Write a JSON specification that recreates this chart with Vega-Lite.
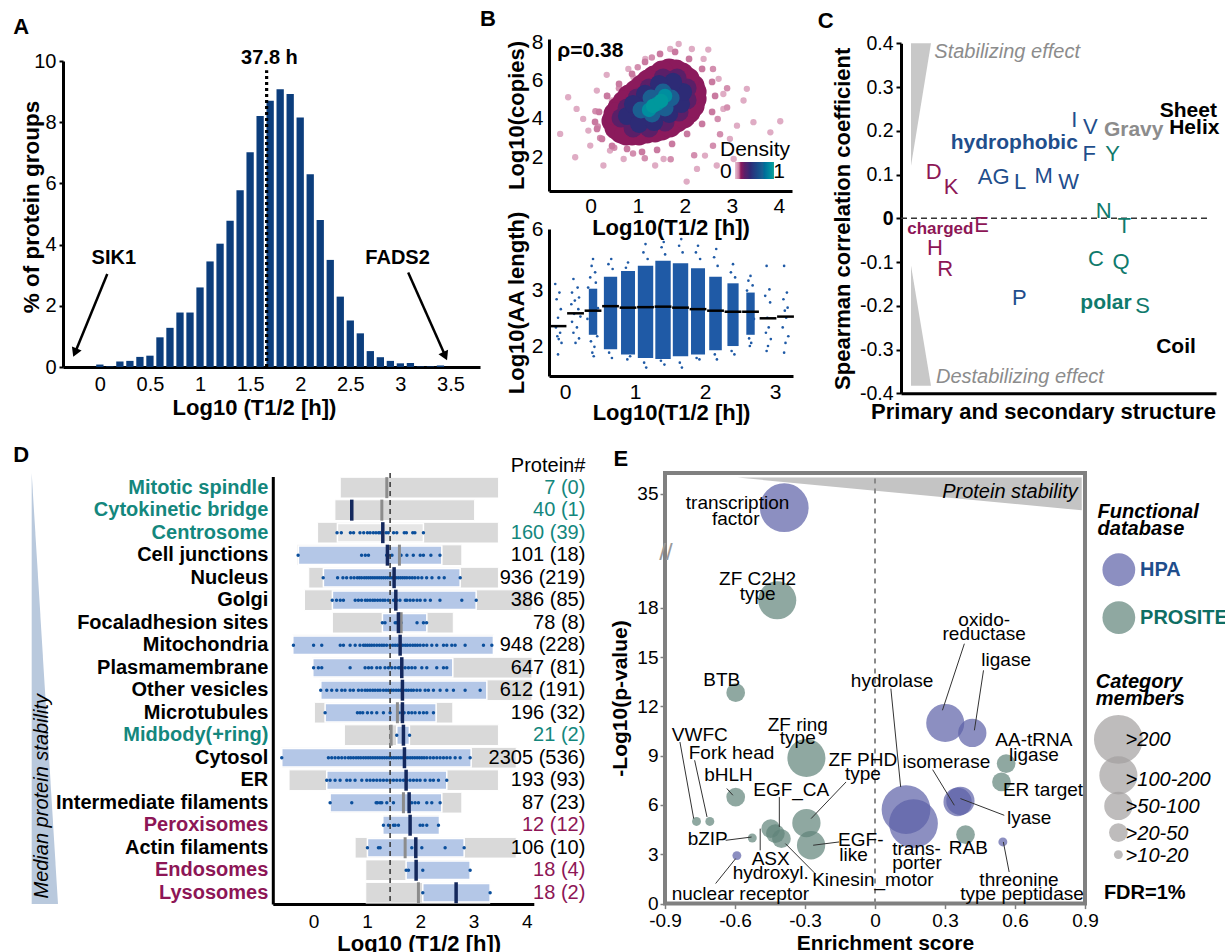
{
"$schema":"https://vega.github.io/schema/vega-lite/v6.json",
"background":"white",
"padding":{"left":13,"top":8,"right":0,"bottom":0},
"config":{"font":"Liberation Sans","view":{"stroke":null},
 "axis":{"domainColor":"#000","domainWidth":3,"tickColor":"#000","labelColor":"#000","titleColor":"#000","labelFontSize":19,"titleFontSize":22,"titleFontWeight":"bold","grid":false,"labelOverlap":false,"labelFlush":false},
 "title":{"fontSize":22,"fontWeight":"bold","anchor":"start","frame":"group","baseline":"alphabetic","color":"#000"}},
"spacing":21,
"resolve":{"scale":{"color":"independent","size":"independent","fill":"independent","angle":"independent"},"legend":{"color":"independent","size":"independent","fill":"independent"}},
"vconcat":[
{"spacing":0,
 "resolve":{"scale":{"color":"independent","size":"independent","fill":"independent","angle":"independent"},"legend":{"color":"independent","size":"independent","fill":"independent"}},
 "hconcat":[
 {"width":417,"height":328,
  "title":{"text":"A","dx":-49.7,"offset":0},
  "encoding":{
   "x":{"field":"x","type":"quantitative","scale":{"domain":[-0.318,3.745],"nice":false,"zero":false},
        "axis":{"values":[0,0.5,1,1.5,2,2.5,3,3.5],"format":"~g","ticks":false,"labelFontSize":20,"labelPadding":7,"title":"Log10 (T1/2 [h])","titlePadding":3,"titleX":191}},
   "y":{"field":"y","type":"quantitative","scale":{"domain":[0,10],"range":[328,22],"nice":false,"zero":false},
        "axis":{"values":[0,2,4,6,8,10],"tickSize":4,"tickWidth":2,"labelFontSize":20,"labelPadding":3,"title":"% of protein groups","titleFontSize":22.5,"titleX":-31.3,"titleBaseline":"middle","titleY":167.5}}},
  "layer":[
   {"data":{"values":[{"x":0,"y":0.08},{"x":0.1,"y":0.02},{"x":0.2,"y":0.18},{"x":0.3,"y":0.2},{"x":0.4,"y":0.33},{"x":0.5,"y":0.37},{"x":0.6,"y":0.97},{"x":0.7,"y":1.28},{"x":0.8,"y":1.78},{"x":0.9,"y":1.78},{"x":1.0,"y":2.6},{"x":1.1,"y":3.45},{"x":1.2,"y":4.03},{"x":1.3,"y":4.78},{"x":1.4,"y":5.78},{"x":1.5,"y":7.02},{"x":1.6,"y":8.2},{"x":1.7,"y":8.7},{"x":1.8,"y":9.08},{"x":1.9,"y":8.92},{"x":2.0,"y":8.15},{"x":2.1,"y":6.3},{"x":2.2,"y":4.8},{"x":2.3,"y":3.5},{"x":2.4,"y":2.3},{"x":2.5,"y":1.52},{"x":2.6,"y":1.1},{"x":2.7,"y":0.52},{"x":2.8,"y":0.32},{"x":2.9,"y":0.2},{"x":3.0,"y":0.12},{"x":3.1,"y":0.13},{"x":3.2,"y":0.02},{"x":3.3,"y":0.02},{"x":3.4,"y":0.05}]},
    "mark":{"type":"bar","color":"#0b3d7c","size":7.3}},
   {"data":{"values":[{"x":1.665,"y":0,"y2":9.7}]},"mark":{"type":"rule","strokeDash":[3,3],"strokeWidth":3.2,"color":"#000"},"encoding":{"y2":{"field":"y2"}}},
   {"data":{"values":[{"x":1.693,"y":10.1,"t":"37.8 h"},{"x":0.139,"y":3.56,"t":"SIK1"},{"x":2.972,"y":3.56,"t":"FADS2"}]},
    "mark":{"type":"text","fontSize":20,"fontWeight":"bold","baseline":"middle","align":"center"},"encoding":{"text":{"field":"t"}}},
   {"data":{"values":[{"x":0.074,"y":3.04,"x2":-0.25,"y2":0.45},{"x":3.078,"y":3.09,"x2":3.45,"y2":0.35}]},
    "mark":{"type":"rule","strokeWidth":2.5,"color":"#000"},"encoding":{"x2":{"field":"x2"},"y2":{"field":"y2"}}},
   {"data":{"values":[{"x":-0.248,"y":0.47,"a":203},{"x":3.447,"y":0.356,"a":155.7}]},
    "mark":{"type":"point","shape":"triangle-up","filled":true,"size":110,"color":"#000","opacity":1},"encoding":{"angle":{"field":"a","type":"quantitative","scale":null}}}
  ]},
 {"vconcat":[
  {"width":268,"height":152,
   "title":{"text":"B","dx":-69,"offset":0},
   "encoding":{
    "x":{"field":"x","type":"quantitative","scale":{"domain":[-0.887,4.28],"range":[0,243],"nice":false,"zero":false},
         "axis":{"values":[0,1,2,3,4],"ticks":false,"labelFontSize":21,"labelPadding":4,"title":"Log10(T1/2 [h])","titlePadding":1}},
    "y":{"field":"y","type":"quantitative","scale":{"domain":[0.24,8.17],"nice":false,"zero":false},
         "axis":{"values":[2,4,6,8],"ticks":false,"labelFontSize":21,"labelPadding":6,"title":"Log10(copies)","titlePadding":3}}},
   "layer":[
    {"encoding":{"color":{"field":"d","type":"quantitative","scale":{"domain":[0,0.1,0.15,0.25,0.4,0.7,1],"range":["#e8c1d3","#c97aa0","#8b1a5c","#5a1f68","#2d2b76","#1b5f91","#22a39b"]},
        "legend":{"type":"gradient","orient":"none","legendX":171,"legendY":100,"direction":"horizontal","gradientLength":39,"gradientThickness":17,"title":"Density","titleFontSize":21,"titleFontWeight":"normal","titleAnchor":"middle","titlePadding":2,"labelFontSize":21,"values":[0,1],"labelExpr":"''","padding":0}}},
     "layer":[
      {"data":{"values":[{"x":-0.65,"y":3.22,"d":0.03},{"x":-0.48,"y":5.13,"d":0.03},{"x":-0.33,"y":2.0,"d":0.03},{"x":0.13,"y":5.48,"d":0.03},{"x":0.34,"y":6.3,"d":0.03},{"x":0.45,"y":4.96,"d":0.03},{"x":-0.16,"y":4.0,"d":0.03},{"x":-0.05,"y":3.39,"d":0.03},{"x":0.41,"y":2.35,"d":0.03},{"x":0.7,"y":1.91,"d":0.03},{"x":0.91,"y":6.17,"d":0.03},{"x":1.16,"y":7.13,"d":0.03},{"x":1.37,"y":1.57,"d":0.03},{"x":1.69,"y":7.65,"d":0.03},{"x":1.87,"y":7.91,"d":0.03},{"x":2.04,"y":0.73,"d":0.03},{"x":2.15,"y":7.65,"d":0.03},{"x":2.5,"y":7.62,"d":0.03},{"x":2.72,"y":6.09,"d":0.03},{"x":2.82,"y":5.3,"d":0.03},{"x":2.96,"y":2.96,"d":0.03},{"x":3.11,"y":3.65,"d":0.03},{"x":3.32,"y":5.57,"d":0.03},{"x":3.46,"y":3.83,"d":0.03},{"x":3.82,"y":3.3,"d":0.03},{"x":4.03,"y":3.88,"d":0.03},{"x":3.04,"y":1.91,"d":0.03},{"x":2.68,"y":1.57,"d":0.03},{"x":2.43,"y":2.09,"d":0.03},{"x":-0.01,"y":2.61,"d":0.03},{"x":0.27,"y":1.57,"d":0.03},{"x":1.55,"y":1.91,"d":0.03},{"x":2.26,"y":1.39,"d":0.03},{"x":0.8,"y":6.61,"d":0.03},{"x":-0.3,"y":4.52,"d":0.03},{"x":2.82,"y":4.52,"d":0.03},{"x":3.25,"y":4.96,"d":0.03},{"x":2.4,"y":7.13,"d":0.03}]},
       "mark":{"type":"circle","opacity":1,"size":40}},
      {"data":{"values":[{"x":0.2,"y":3.0,"d":0.07},{"x":0.1,"y":4.4,"d":0.07},{"x":0.6,"y":5.6,"d":0.07},{"x":1.0,"y":6.7,"d":0.07},{"x":2.6,"y":6.6,"d":0.07},{"x":2.7,"y":4.0,"d":0.07},{"x":2.6,"y":2.6,"d":0.07},{"x":1.7,"y":1.9,"d":0.07},{"x":0.9,"y":2.2,"d":0.07},{"x":2.9,"y":5.6,"d":0.07},{"x":0.15,"y":3.6,"d":0.07},{"x":0.35,"y":5.2,"d":0.07},{"x":1.3,"y":7.2,"d":0.07},{"x":2.75,"y":3.2,"d":0.07},{"x":2.2,"y":2.1,"d":0.07},{"x":1.15,"y":1.95,"d":0.07},{"x":0.5,"y":2.5,"d":0.07},{"x":2.9,"y":4.6,"d":0.07}]},
       "mark":{"type":"circle","opacity":1,"size":42}},
      {"data":{"values":[{"x":0.134,"y":3.477,"d":0.1},{"x":0.24,"y":2.956,"d":0.1},{"x":0.453,"y":2.59,"d":0.1},{"x":0.772,"y":2.434,"d":0.1},{"x":1.091,"y":2.277,"d":0.1},{"x":1.411,"y":2.382,"d":0.1},{"x":1.73,"y":2.695,"d":0.1},{"x":2.049,"y":3.217,"d":0.1},{"x":2.368,"y":3.738,"d":0.1},{"x":2.581,"y":4.364,"d":0.1},{"x":2.645,"y":5.198,"d":0.1},{"x":2.581,"y":5.929,"d":0.1},{"x":2.368,"y":6.607,"d":0.1},{"x":2.091,"y":7.129,"d":0.1},{"x":1.794,"y":7.494,"d":0.1},{"x":1.474,"y":7.39,"d":0.1},{"x":1.155,"y":6.973,"d":0.1},{"x":0.879,"y":6.346,"d":0.1},{"x":0.602,"y":5.824,"d":0.1},{"x":0.347,"y":5.198,"d":0.1},{"x":0.177,"y":4.364,"d":0.1},{"x":0.092,"y":3.842,"d":0.1}]},
       "mark":{"type":"circle","opacity":1,"size":45}},
      {"data":{"values":[{"x":0.474,"y":3.894,"d":0.15},{"x":0.645,"y":3.321,"d":0.15},{"x":0.879,"y":3.217,"d":0.15},{"x":1.198,"y":3.321,"d":0.15},{"x":1.517,"y":3.477,"d":0.15},{"x":1.836,"y":3.894,"d":0.15},{"x":2.091,"y":4.364,"d":0.15},{"x":2.219,"y":5.042,"d":0.15},{"x":2.177,"y":5.72,"d":0.15},{"x":1.943,"y":6.346,"d":0.15},{"x":1.666,"y":6.553,"d":0.15},{"x":1.347,"y":6.19,"d":0.15},{"x":1.091,"y":5.72,"d":0.15},{"x":0.815,"y":5.198,"d":0.15},{"x":0.602,"y":4.573,"d":0.15},{"x":0.538,"y":3.529,"d":0.15},{"x":0.751,"y":3.217,"d":0.15},{"x":1.028,"y":3.217,"d":0.15},{"x":1.368,"y":3.373,"d":0.15},{"x":1.687,"y":3.634,"d":0.15},{"x":1.985,"y":4.103,"d":0.15},{"x":2.177,"y":4.677,"d":0.15},{"x":2.219,"y":5.407,"d":0.15},{"x":2.07,"y":6.085,"d":0.15},{"x":1.815,"y":6.503,"d":0.15},{"x":1.517,"y":6.451,"d":0.15},{"x":1.219,"y":5.981,"d":0.15},{"x":0.964,"y":5.46,"d":0.15},{"x":0.709,"y":4.886,"d":0.15},{"x":0.517,"y":4.26,"d":0.15},{"x":1.411,"y":4.781,"d":0.15},{"x":1.091,"y":4.26,"d":0.15},{"x":1.73,"y":5.303,"d":0.15},{"x":1.623,"y":4.26,"d":0.15},{"x":0.985,"y":5.042,"d":0.15},{"x":1.836,"y":4.781,"d":0.15}]},
       "mark":{"type":"circle","opacity":1,"size":530}},
      {"data":{"values":[{"x":0.645,"y":4.051,"d":0.25},{"x":0.9,"y":3.529,"d":0.25},{"x":1.24,"y":3.529,"d":0.25},{"x":1.581,"y":3.842,"d":0.25},{"x":1.879,"y":4.364,"d":0.25},{"x":2.049,"y":4.99,"d":0.25},{"x":2.049,"y":5.616,"d":0.25},{"x":1.836,"y":6.138,"d":0.25},{"x":1.538,"y":6.138,"d":0.25},{"x":1.24,"y":5.616,"d":0.25},{"x":0.985,"y":5.094,"d":0.25},{"x":0.772,"y":4.573,"d":0.25}]},
       "mark":{"type":"circle","opacity":1,"size":360}},
      {"data":{"values":[{"x":0.772,"y":4.155,"d":0.4},{"x":1.028,"y":3.738,"d":0.4},{"x":1.347,"y":3.842,"d":0.4},{"x":1.666,"y":4.26,"d":0.4},{"x":1.921,"y":4.781,"d":0.4},{"x":1.964,"y":5.407,"d":0.4},{"x":1.751,"y":5.929,"d":0.4},{"x":1.453,"y":5.824,"d":0.4},{"x":1.155,"y":5.303,"d":0.4},{"x":0.9,"y":4.781,"d":0.4},{"x":1.411,"y":4.781,"d":0.4}]},
       "mark":{"type":"circle","opacity":1,"size":330}},
      {"data":{"values":[{"x":1.07,"y":4.469,"d":0.7},{"x":1.304,"y":4.26,"d":0.7},{"x":1.581,"y":4.573,"d":0.7},{"x":1.709,"y":5.094,"d":0.7},{"x":1.538,"y":5.407,"d":0.7},{"x":1.283,"y":5.094,"d":0.7}]},
       "mark":{"type":"circle","opacity":1,"size":290}},
      {"data":{"values":[{"x":1.24,"y":4.469,"d":0.9},{"x":1.581,"y":5.198,"d":0.9},{"x":1.411,"y":4.781,"d":0.9},{"x":1.326,"y":4.677,"d":0.95},{"x":1.496,"y":4.938,"d":0.95}]},
       "mark":{"type":"circle","opacity":1,"size":210}}
     ]},
    {"data":{"values":[{"x":-0.71,"y":7.56,"t":"ρ=0.38"}]},"mark":{"type":"text","align":"left","baseline":"middle","fontSize":21,"fontWeight":"bold","color":"#000"},"encoding":{"text":{"field":"t"}}},
    {"data":{"values":[{"x":2.874,"y":1.218,"t":"0"},{"x":4.006,"y":1.218,"t":"1"}]},"mark":{"type":"text","align":"center","baseline":"middle","fontSize":21,"color":"#000"},"encoding":{"text":{"field":"t"}}}
   ]},
  {"width":268,"height":147,
   "encoding":{
    "x":{"field":"x","type":"quantitative","scale":{"domain":[-0.229,3.257],"range":[0,244],"nice":false,"zero":false},
         "axis":{"values":[0,1,2,3],"ticks":false,"labelFontSize":21,"labelPadding":5,"title":"Log10(T1/2 [h])","titlePadding":0}},
    "y":{"field":"y","type":"quantitative","scale":{"type":"pow","exponent":-0.8,"domain":[1.68,6],"nice":false,"zero":false},
         "axis":{"values":[2,3,6],"ticks":false,"labelFontSize":21,"labelPadding":6,"title":"Log10(AA length)","titlePadding":3}}},
   "layer":[
    {"data":{"values":[{"x":0.34,"x2":0.46,"y":2.15,"y2":3.05},{"x":0.555,"x2":0.745,"y":1.96,"y2":3.4},{"x":0.8,"x2":1.0,"y":1.9,"y2":3.6},{"x":1.04,"x2":1.26,"y":1.86,"y2":3.8},{"x":1.29,"x2":1.51,"y":1.85,"y2":4.0},{"x":1.54,"x2":1.76,"y":1.88,"y2":3.9},{"x":1.8,"x2":2.0,"y":1.9,"y2":3.7},{"x":2.06,"x2":2.24,"y":1.95,"y2":3.4},{"x":2.32,"x2":2.48,"y":2.0,"y2":3.2},{"x":2.59,"x2":2.71,"y":2.15,"y2":2.95}]},
     "mark":{"type":"rect","color":"#1f5aa6"},"encoding":{"x2":{"field":"x2"},"y2":{"field":"y2"}}},
    {"data":{"values":[
     {"x":-0.14,"y":3.18},{"x":-0.08,"y":2.95},{"x":-0.12,"y":2.79},{"x":-0.06,"y":2.58},{"x":-0.1,"y":2.42},{"x":-0.13,"y":2.26},{"x":-0.07,"y":2.18},{"x":-0.11,"y":2.13},{"x":-0.09,"y":2.09},{"x":-0.05,"y":2.04},{"x":-0.1,"y":1.9},
     {"x":0.12,"y":3.33},{"x":0.18,"y":3.08},{"x":0.1,"y":2.95},{"x":0.2,"y":2.83},{"x":0.14,"y":2.76},{"x":0.09,"y":2.68},{"x":0.19,"y":2.58},{"x":0.13,"y":2.49},{"x":0.22,"y":2.44},{"x":0.1,"y":2.35},{"x":0.17,"y":2.26},{"x":0.12,"y":2.18},{"x":0.2,"y":2.1},{"x":0.15,"y":2.04},
     {"x":0.4,"y":4.08},{"x":0.38,"y":3.79},{"x":0.43,"y":3.55},{"x":0.36,"y":3.38},{"x":0.44,"y":3.22},{"x":0.33,"y":3.08},{"x":0.47,"y":2.6},{"x":0.32,"y":2.4},{"x":0.46,"y":2.13},{"x":0.37,"y":2.06},{"x":0.42,"y":1.99},{"x":0.39,"y":1.92},{"x":0.41,"y":1.88},
     {"x":0.66,"y":4.08},{"x":0.62,"y":3.86},{"x":0.68,"y":3.67},{"x":0.63,"y":1.92},{"x":0.67,"y":1.86},
     {"x":0.9,"y":3.93},{"x":0.87,"y":3.72},{"x":0.93,"y":1.88},{"x":0.89,"y":1.845},
     {"x":1.15,"y":4.87},{"x":1.12,"y":4.4},{"x":1.18,"y":4.08},{"x":1.13,"y":1.81},{"x":1.16,"y":1.76},
     {"x":1.41,"y":5.0},{"x":1.38,"y":4.68},{"x":1.43,"y":4.3},{"x":1.37,"y":1.83},{"x":1.42,"y":1.79},
     {"x":1.66,"y":5.2},{"x":1.63,"y":4.77},{"x":1.68,"y":4.4},{"x":1.64,"y":1.81},{"x":1.67,"y":1.76},
     {"x":1.9,"y":4.77},{"x":1.87,"y":4.4},{"x":1.93,"y":4.08},{"x":1.88,"y":1.86},{"x":1.92,"y":1.845},
     {"x":2.16,"y":4.58},{"x":2.13,"y":4.16},{"x":2.18,"y":3.79},{"x":2.14,"y":1.9},{"x":2.17,"y":1.845},
     {"x":2.4,"y":3.86},{"x":2.37,"y":3.55},{"x":2.43,"y":3.38},{"x":2.38,"y":1.94},{"x":2.42,"y":1.9},
     {"x":2.65,"y":3.43},{"x":2.62,"y":3.28},{"x":2.68,"y":3.14},{"x":2.6,"y":3.0},{"x":2.7,"y":2.4},{"x":2.63,"y":2.1},{"x":2.66,"y":2.04},{"x":2.64,"y":2.0},
     {"x":2.88,"y":3.79},{"x":2.92,"y":3.03},{"x":2.86,"y":2.87},{"x":2.93,"y":2.72},{"x":2.89,"y":2.42},{"x":2.91,"y":2.26},{"x":2.87,"y":2.18},{"x":2.94,"y":2.09},{"x":2.9,"y":2.0},{"x":2.88,"y":1.94},
     {"x":3.13,"y":3.79},{"x":3.17,"y":2.95},{"x":3.12,"y":2.79},{"x":3.18,"y":2.61},{"x":3.14,"y":2.55},{"x":3.16,"y":2.42},{"x":3.11,"y":2.26},{"x":3.19,"y":2.13},{"x":3.15,"y":2.04},{"x":3.13,"y":1.92}]},
     "mark":{"type":"circle","size":7,"color":"#1f5aa6","opacity":1}},
    {"data":{"values":[{"x":-0.22,"x2":0.02,"y":2.28},{"x":0.03,"x2":0.27,"y":2.5},{"x":0.28,"x2":0.52,"y":2.55},{"x":0.53,"x2":0.77,"y":2.64},{"x":0.78,"x2":1.02,"y":2.61},{"x":1.03,"x2":1.27,"y":2.62},{"x":1.28,"x2":1.52,"y":2.63},{"x":1.53,"x2":1.77,"y":2.61},{"x":1.78,"x2":2.02,"y":2.58},{"x":2.03,"x2":2.27,"y":2.55},{"x":2.28,"x2":2.52,"y":2.53},{"x":2.53,"x2":2.77,"y":2.53},{"x":2.78,"x2":3.02,"y":2.41},{"x":3.03,"x2":3.27,"y":2.44}]},
     "mark":{"type":"rule","strokeWidth":2.5,"color":"#000"},"encoding":{"x2":{"field":"x2"}}}
   ]}
 ],"spacing":38,"bounds":"flush",
  "resolve":{"scale":{"color":"independent","size":"independent"},"legend":{"color":"independent","size":"independent"}}},
 {"width":315,"height":354.3,
  "title":{"text":"C","dx":-83.3,"offset":0},
  "encoding":{
   "x":{"field":"x","type":"quantitative","scale":{"domain":[0,315],"nice":false,"zero":false},
        "axis":{"labels":false,"ticks":false,"title":"Primary and secondary structure","titlePadding":8,"titleX":142}},
   "y":{"field":"y","type":"quantitative","scale":{"domain":[-0.4,0.4],"range":[354.3,4.3],"nice":false,"zero":false},
        "axis":{"values":[-0.4,-0.3,-0.2,-0.1,0,0.1,0.2,0.3,0.4],"labelExpr":"datum.value == 0 ? '0' : (datum.value < 0 ? '-' + format(-datum.value, '.1f') : format(datum.value, '.1f'))","labelFontWeight":{"condition":{"test":"datum.value == 0","value":"bold"},"value":"normal"},"tickSize":5,"tickWidth":2,"labelFontSize":19.5,"labelPadding":3,"title":"Spearman correlation coefficient","titlePadding":5}}},
  "layer":[
   {"data":{"values":[{"g":"u","y":0.4,"x":10,"x2":30},{"g":"u","y":0.12,"x":10,"x2":10},{"g":"l","y":-0.108,"x":10,"x2":10},{"g":"l","y":-0.383,"x":10,"x2":30}]},
    "mark":{"type":"area","orient":"horizontal","color":"#c8c8c8"},"encoding":{"x2":{"field":"x2"},"detail":{"field":"g"}}},
   {"data":{"values":[{"x":0,"x2":310,"y":0}]},"mark":{"type":"rule","strokeDash":[6,4],"strokeWidth":1.5,"color":"#333"},"encoding":{"x2":{"field":"x2"}}},
   {"data":{"values":[{"t":"Stabilizing effect","x":33.3,"y":0.379},{"t":"Destabilizing effect","x":35,"y":-0.363}]},
    "mark":{"type":"text","align":"left","baseline":"middle","fontSize":20,"fontStyle":"italic","color":"#8c8c8c"},"encoding":{"text":{"field":"t"}}},
   {"data":{"values":[{"t":"D","x":32.7,"y":0.1065,"g":"charged"},{"t":"K","x":50,"y":0.071,"g":"charged"},{"t":"E","x":80.5,"y":-0.015,"g":"charged"},{"t":"H","x":34,"y":-0.069,"g":"charged"},{"t":"R","x":44.3,"y":-0.116,"g":"charged"},
     {"t":"AG","x":92.7,"y":0.095,"g":"hydrophobic"},{"t":"L","x":119,"y":0.082,"g":"hydrophobic"},{"t":"M","x":142.7,"y":0.097,"g":"hydrophobic"},{"t":"W","x":167.7,"y":0.082,"g":"hydrophobic"},{"t":"I","x":173.3,"y":0.225,"g":"hydrophobic"},{"t":"V","x":189.3,"y":0.208,"g":"hydrophobic"},{"t":"F","x":188.3,"y":0.147,"g":"hydrophobic"},{"t":"P","x":118.3,"y":-0.182,"g":"hydrophobic"},
     {"t":"Y","x":211.7,"y":0.147,"g":"polar"},{"t":"N","x":202.7,"y":0.017,"g":"polar"},{"t":"T","x":223.3,"y":-0.017,"g":"polar"},{"t":"C","x":195,"y":-0.093,"g":"polar"},{"t":"Q","x":220,"y":-0.101,"g":"polar"},{"t":"S","x":241.7,"y":-0.201,"g":"polar"}]},
    "mark":{"type":"text","baseline":"middle","align":"center","fontSize":22},
    "encoding":{"text":{"field":"t"},"color":{"field":"g","type":"nominal","scale":{"domain":["charged","hydrophobic","polar","gravy","struct"],"range":["#8d1656","#1f4e8c","#0f7a6c","#8c8c8c","#000000"]},"legend":null}}},
   {"data":{"values":[{"t":"hydrophobic","x":113.3,"y":0.172,"g":"hydrophobic"},{"t":"polar","x":205,"y":-0.194,"g":"polar"},{"t":"Gravy","x":232.7,"y":0.202,"g":"gravy"},{"t":"Sheet","x":287.3,"y":0.246,"g":"struct"},{"t":"Helix","x":293.3,"y":0.206,"g":"struct"},{"t":"Coil","x":275,"y":-0.295,"g":"struct"}]},
    "mark":{"type":"text","baseline":"middle","align":"center","fontSize":21,"fontWeight":"bold"},
    "encoding":{"text":{"field":"t"},"color":{"field":"g","type":"nominal","legend":null}}},
   {"data":{"values":[{"t":"charged","x":39.3,"y":-0.025,"g":"charged"}]},
    "mark":{"type":"text","baseline":"middle","align":"center","fontSize":17,"fontWeight":"bold"},
    "encoding":{"text":{"field":"t"},"color":{"field":"g","type":"nominal","legend":null}}}
  ]}
]},
{"spacing":131,"bounds":"flush",
 "resolve":{"scale":{"color":"independent","size":"independent","fill":"independent"},"legend":{"color":"independent","size":"independent","fill":"independent"}},
 "hconcat":[
 {"width":470.8,"height":431,
  "title":{"text":"D","dx":-49.7,"offset":7,"dy":18.4},
  "resolve":{"scale":{"y":"independent"}},
  "layer":[
   {"encoding":{"y":{"field":"c","type":"nominal","sort":null,
      "scale":{"domain":["Mitotic spindle","Cytokinetic bridge","Centrosome","Cell junctions","Nucleus","Golgi","Focaladhesion sites","Mitochondria","Plasmamembrane","Other vesicles","Microtubules","Midbody(+ring)","Cytosol","ER","Intermediate filaments","Peroxisomes","Actin filaments","Endosomes","Lysosomes"],"range":[3.4,431],"paddingInner":0,"paddingOuter":0},
      "axis":{"title":null,"ticks":false,"domainWidth":3,"offset":-209.8,"labelFontSize":20,"labelFontWeight":"bold","labelPadding":5,"labelLimit":400,
        "labelColor":{"condition":[{"test":"indexof(['Mitotic spindle','Cytokinetic bridge','Centrosome','Midbody(+ring)'], datum.value) >= 0","value":"#14877d"},{"test":"indexof(['Peroxisomes','Endosomes','Lysosomes'], datum.value) >= 0","value":"#8d1656"}],"value":"#000000"}}}},
    "layer":[
     {"data":{"values":[{"c":"Mitotic spindle","x":0.5,"x2":3.47},{"c":"Cytokinetic bridge","x":0.4,"x2":3.02},{"c":"Centrosome","x":0.075,"x2":3.466},{"c":"Cell junctions","x":-0.31,"x2":2.78},{"c":"Nucleus","x":-0.09,"x2":3.467},{"c":"Golgi","x":-0.17,"x2":4.096},{"c":"Focaladhesion sites","x":0.353,"x2":2.62},{"c":"Mitochondria","x":-0.39,"x2":3.373},{"c":"Plasmamembrane","x":-0.015,"x2":4.096},{"c":"Other vesicles","x":0.113,"x2":4.096},{"c":"Microtubules","x":0.015,"x2":2.611},{"c":"Midbody(+ring)","x":0.578,"x2":3.467},{"c":"Cytosol","x":-0.597,"x2":3.8},{"c":"ER","x":-0.46,"x2":3.467},{"c":"Intermediate filaments","x":0.297,"x2":2.78},{"c":"Peroxisomes","x":1.298,"x2":2.361},{"c":"Actin filaments","x":0.779,"x2":3.8},{"c":"Endosomes","x":0.979,"x2":2.936},{"c":"Lysosomes","x":0.979,"x2":3.311}]},
      "mark":{"type":"bar","color":"#d9d9d9","stroke":"#ffffff","strokeWidth":1,"height":{"band":0.92}},
      "encoding":{"x":{"field":"x","type":"quantitative","scale":{"domain":[-0.765,4.13],"range":[209.8,470.8],"nice":false,"zero":false},
         "axis":{"values":[0,1,2,3,4],"format":"~g","ticks":false,"labelFontSize":19,"labelPadding":8,"title":"Log10 (T1/2 [h])","titlePadding":2,"titleX":355.7}},"x2":{"field":"x2"}}},
     {"data":{"values":[{"c":"Centrosome","x":0.447,"x2":2.06,"box":"ns"},{"c":"Cell junctions","x":-0.285,"x2":2.405,"box":"sig"},{"c":"Nucleus","x":0.184,"x2":2.749,"box":"sig"},{"c":"Golgi","x":0.353,"x2":3.049,"box":"sig"},{"c":"Focaladhesion sites","x":1.291,"x2":2.124,"box":"sig"},{"c":"Mitochondria","x":-0.39,"x2":3.373,"box":"sig"},{"c":"Plasmamembrane","x":-0.015,"x2":2.611,"box":"sig"},{"c":"Other vesicles","x":0.135,"x2":3.249,"box":"sig"},{"c":"Microtubules","x":0.216,"x2":2.298,"box":"sig"},{"c":"Midbody(+ring)","x":1.56,"x2":1.797,"box":"sig"},{"c":"Cytosol","x":-0.597,"x2":2.955,"box":"sig"},{"c":"ER","x":0.247,"x2":2.498,"box":"sig"},{"c":"Intermediate filaments","x":0.31,"x2":2.405,"box":"sig"},{"c":"Peroxisomes","x":1.298,"x2":2.361,"box":"sig"},{"c":"Actin filaments","x":1.01,"x2":2.824,"box":"sig"},{"c":"Endosomes","x":1.735,"x2":2.936,"box":"sig"},{"c":"Lysosomes","x":2.048,"x2":3.311,"box":"sig"}]},
      "mark":{"type":"bar","stroke":"#ffffff","strokeWidth":1.5,"height":{"band":0.82}},
      "encoding":{"x":{"field":"x","type":"quantitative","scale":{"domain":[-0.765,4.13],"range":[209.8,470.8],"nice":false,"zero":false}},"x2":{"field":"x2"},"color":{"field":"box","type":"nominal","scale":{"domain":["sig","ns"],"range":["#b4c7e7","#e6e6e6"]},"legend":null}}},
     {"data":{"values":[
      {"c":"Centrosome","x":0.44},{"c":"Centrosome","x":0.52},{"c":"Centrosome","x":0.69},{"c":"Centrosome","x":0.75},{"c":"Centrosome","x":0.87},{"c":"Centrosome","x":0.94},{"c":"Centrosome","x":1.01},{"c":"Centrosome","x":1.06},{"c":"Centrosome","x":1.12},{"c":"Centrosome","x":1.17},{"c":"Centrosome","x":1.22},{"c":"Centrosome","x":1.25},{"c":"Centrosome","x":1.36},{"c":"Centrosome","x":1.4},{"c":"Centrosome","x":1.5},{"c":"Centrosome","x":1.56},{"c":"Centrosome","x":1.7},{"c":"Centrosome","x":1.74},{"c":"Centrosome","x":1.86},{"c":"Centrosome","x":1.9},{"c":"Centrosome","x":2.06},
      {"c":"Cell junctions","x":-0.29},{"c":"Cell junctions","x":0.9},{"c":"Cell junctions","x":0.97},{"c":"Cell junctions","x":1.03},{"c":"Cell junctions","x":1.37},{"c":"Cell junctions","x":1.4},{"c":"Cell junctions","x":1.47},{"c":"Cell junctions","x":1.64},{"c":"Cell junctions","x":1.75},{"c":"Cell junctions","x":1.87},{"c":"Cell junctions","x":2.0},{"c":"Cell junctions","x":2.06},{"c":"Cell junctions","x":2.2},{"c":"Cell junctions","x":2.37},
      {"c":"Nucleus","x":0.18},{"c":"Nucleus","x":0.45},{"c":"Nucleus","x":0.55},{"c":"Nucleus","x":0.62},{"c":"Nucleus","x":0.7},{"c":"Nucleus","x":0.76},{"c":"Nucleus","x":0.82},{"c":"Nucleus","x":0.86},{"c":"Nucleus","x":0.9},{"c":"Nucleus","x":0.95},{"c":"Nucleus","x":0.99},{"c":"Nucleus","x":1.03},{"c":"Nucleus","x":1.07},{"c":"Nucleus","x":1.11},{"c":"Nucleus","x":1.15},{"c":"Nucleus","x":1.19},{"c":"Nucleus","x":1.23},{"c":"Nucleus","x":1.27},{"c":"Nucleus","x":1.31},{"c":"Nucleus","x":1.35},{"c":"Nucleus","x":1.39},{"c":"Nucleus","x":1.43},{"c":"Nucleus","x":1.47},{"c":"Nucleus","x":1.51},{"c":"Nucleus","x":1.55},{"c":"Nucleus","x":1.59},{"c":"Nucleus","x":1.63},{"c":"Nucleus","x":1.67},{"c":"Nucleus","x":1.71},{"c":"Nucleus","x":1.75},{"c":"Nucleus","x":1.8},{"c":"Nucleus","x":1.85},{"c":"Nucleus","x":1.9},{"c":"Nucleus","x":1.96},{"c":"Nucleus","x":2.03},{"c":"Nucleus","x":2.12},{"c":"Nucleus","x":2.22},{"c":"Nucleus","x":2.35},{"c":"Nucleus","x":2.45},{"c":"Nucleus","x":2.75},
      {"c":"Golgi","x":0.35},{"c":"Golgi","x":0.43},{"c":"Golgi","x":0.5},{"c":"Golgi","x":0.56},{"c":"Golgi","x":0.78},{"c":"Golgi","x":0.84},{"c":"Golgi","x":0.9},{"c":"Golgi","x":0.97},{"c":"Golgi","x":1.01},{"c":"Golgi","x":1.06},{"c":"Golgi","x":1.11},{"c":"Golgi","x":1.15},{"c":"Golgi","x":1.2},{"c":"Golgi","x":1.25},{"c":"Golgi","x":1.3},{"c":"Golgi","x":1.34},{"c":"Golgi","x":1.4},{"c":"Golgi","x":1.5},{"c":"Golgi","x":1.56},{"c":"Golgi","x":1.62},{"c":"Golgi","x":1.72},{"c":"Golgi","x":1.75},{"c":"Golgi","x":1.81},{"c":"Golgi","x":1.87},{"c":"Golgi","x":1.94},{"c":"Golgi","x":2.0},{"c":"Golgi","x":2.09},{"c":"Golgi","x":2.19},{"c":"Golgi","x":2.37},{"c":"Golgi","x":2.78},{"c":"Golgi","x":3.05},
      {"c":"Focaladhesion sites","x":1.29},{"c":"Focaladhesion sites","x":1.34},{"c":"Focaladhesion sites","x":1.53},{"c":"Focaladhesion sites","x":1.56},{"c":"Focaladhesion sites","x":1.61},{"c":"Focaladhesion sites","x":1.64},{"c":"Focaladhesion sites","x":1.94},{"c":"Focaladhesion sites","x":2.06},{"c":"Focaladhesion sites","x":2.12},
      {"c":"Mitochondria","x":-0.378},{"c":"Mitochondria","x":0.0},{"c":"Mitochondria","x":0.153},{"c":"Mitochondria","x":0.5},{"c":"Mitochondria","x":0.56},{"c":"Mitochondria","x":0.685},{"c":"Mitochondria","x":0.78},{"c":"Mitochondria","x":0.87},{"c":"Mitochondria","x":0.935},{"c":"Mitochondria","x":0.97},{"c":"Mitochondria","x":1.01},{"c":"Mitochondria","x":1.05},{"c":"Mitochondria","x":1.09},{"c":"Mitochondria","x":1.135},{"c":"Mitochondria","x":1.185},{"c":"Mitochondria","x":1.235},{"c":"Mitochondria","x":1.28},{"c":"Mitochondria","x":1.32},{"c":"Mitochondria","x":1.37},{"c":"Mitochondria","x":1.435},{"c":"Mitochondria","x":1.485},{"c":"Mitochondria","x":1.53},{"c":"Mitochondria","x":1.573},{"c":"Mitochondria","x":1.623},{"c":"Mitochondria","x":1.673},{"c":"Mitochondria","x":1.72},{"c":"Mitochondria","x":1.76},{"c":"Mitochondria","x":1.81},{"c":"Mitochondria","x":1.86},{"c":"Mitochondria","x":1.904},{"c":"Mitochondria","x":1.948},{"c":"Mitochondria","x":1.998},{"c":"Mitochondria","x":2.06},{"c":"Mitochondria","x":2.123},{"c":"Mitochondria","x":2.217},{"c":"Mitochondria","x":2.31},{"c":"Mitochondria","x":2.436},{"c":"Mitochondria","x":2.498},{"c":"Mitochondria","x":2.592},{"c":"Mitochondria","x":2.655},{"c":"Mitochondria","x":2.842},{"c":"Mitochondria","x":3.186},{"c":"Mitochondria","x":3.343},
      {"c":"Plasmamembrane","x":0.0},{"c":"Plasmamembrane","x":0.09},{"c":"Plasmamembrane","x":0.153},{"c":"Plasmamembrane","x":0.685},{"c":"Plasmamembrane","x":0.966},{"c":"Plasmamembrane","x":1.03},{"c":"Plasmamembrane","x":1.09},{"c":"Plasmamembrane","x":1.185},{"c":"Plasmamembrane","x":1.25},{"c":"Plasmamembrane","x":1.34},{"c":"Plasmamembrane","x":1.404},{"c":"Plasmamembrane","x":1.467},{"c":"Plasmamembrane","x":1.53},{"c":"Plasmamembrane","x":1.592},{"c":"Plasmamembrane","x":1.623},{"c":"Plasmamembrane","x":1.654},{"c":"Plasmamembrane","x":1.717},{"c":"Plasmamembrane","x":1.78},{"c":"Plasmamembrane","x":1.842},{"c":"Plasmamembrane","x":1.904},{"c":"Plasmamembrane","x":2.03},{"c":"Plasmamembrane","x":2.123},{"c":"Plasmamembrane","x":2.31},{"c":"Plasmamembrane","x":2.436},{"c":"Plasmamembrane","x":2.498},
      {"c":"Other vesicles","x":0.134},{"c":"Other vesicles","x":0.247},{"c":"Other vesicles","x":0.34},{"c":"Other vesicles","x":0.435},{"c":"Other vesicles","x":0.528},{"c":"Other vesicles","x":0.59},{"c":"Other vesicles","x":0.685},{"c":"Other vesicles","x":0.747},{"c":"Other vesicles","x":0.841},{"c":"Other vesicles","x":0.904},{"c":"Other vesicles","x":0.966},{"c":"Other vesicles","x":1.01},{"c":"Other vesicles","x":1.06},{"c":"Other vesicles","x":1.11},{"c":"Other vesicles","x":1.154},{"c":"Other vesicles","x":1.204},{"c":"Other vesicles","x":1.248},{"c":"Other vesicles","x":1.31},{"c":"Other vesicles","x":1.36},{"c":"Other vesicles","x":1.404},{"c":"Other vesicles","x":1.454},{"c":"Other vesicles","x":1.498},{"c":"Other vesicles","x":1.548},{"c":"Other vesicles","x":1.592},{"c":"Other vesicles","x":1.636},{"c":"Other vesicles","x":1.686},{"c":"Other vesicles","x":1.736},{"c":"Other vesicles","x":1.78},{"c":"Other vesicles","x":1.83},{"c":"Other vesicles","x":1.873},{"c":"Other vesicles","x":1.936},{"c":"Other vesicles","x":1.998},{"c":"Other vesicles","x":2.092},{"c":"Other vesicles","x":2.154},{"c":"Other vesicles","x":2.248},{"c":"Other vesicles","x":2.373},{"c":"Other vesicles","x":2.498},{"c":"Other vesicles","x":2.623},{"c":"Other vesicles","x":2.842},{"c":"Other vesicles","x":3.124},
      {"c":"Microtubules","x":0.216},{"c":"Microtubules","x":0.822},{"c":"Microtubules","x":0.872},{"c":"Microtubules","x":0.922},{"c":"Microtubules","x":1.01},{"c":"Microtubules","x":1.09},{"c":"Microtubules","x":1.185},{"c":"Microtubules","x":1.31},{"c":"Microtubules","x":1.435},{"c":"Microtubules","x":1.592},{"c":"Microtubules","x":1.654},{"c":"Microtubules","x":1.698},{"c":"Microtubules","x":1.78},{"c":"Microtubules","x":1.842},{"c":"Microtubules","x":1.904},{"c":"Microtubules","x":1.986},{"c":"Microtubules","x":2.06},{"c":"Microtubules","x":2.123},{"c":"Microtubules","x":2.248},
      {"c":"Midbody(+ring)","x":1.56},{"c":"Midbody(+ring)","x":1.8},
      {"c":"Cytosol","x":-0.597},{"c":"Cytosol","x":0.278},{"c":"Cytosol","x":0.34},{"c":"Cytosol","x":0.403},{"c":"Cytosol","x":0.466},{"c":"Cytosol","x":0.528},{"c":"Cytosol","x":0.59},{"c":"Cytosol","x":0.653},{"c":"Cytosol","x":0.697},{"c":"Cytosol","x":0.747},{"c":"Cytosol","x":0.797},{"c":"Cytosol","x":0.841},{"c":"Cytosol","x":0.885},{"c":"Cytosol","x":0.935},{"c":"Cytosol","x":0.979},{"c":"Cytosol","x":1.023},{"c":"Cytosol","x":1.066},{"c":"Cytosol","x":1.11},{"c":"Cytosol","x":1.154},{"c":"Cytosol","x":1.198},{"c":"Cytosol","x":1.242},{"c":"Cytosol","x":1.285},{"c":"Cytosol","x":1.329},{"c":"Cytosol","x":1.373},{"c":"Cytosol","x":1.417},{"c":"Cytosol","x":1.46},{"c":"Cytosol","x":1.504},{"c":"Cytosol","x":1.548},{"c":"Cytosol","x":1.592},{"c":"Cytosol","x":1.636},{"c":"Cytosol","x":1.679},{"c":"Cytosol","x":1.723},{"c":"Cytosol","x":1.767},{"c":"Cytosol","x":1.811},{"c":"Cytosol","x":1.854},{"c":"Cytosol","x":1.898},{"c":"Cytosol","x":1.942},{"c":"Cytosol","x":1.986},{"c":"Cytosol","x":2.03},{"c":"Cytosol","x":2.073},{"c":"Cytosol","x":2.123},{"c":"Cytosol","x":2.186},{"c":"Cytosol","x":2.248},{"c":"Cytosol","x":2.311},{"c":"Cytosol","x":2.373},{"c":"Cytosol","x":2.436},{"c":"Cytosol","x":2.498},{"c":"Cytosol","x":2.561},{"c":"Cytosol","x":2.655},{"c":"Cytosol","x":2.749},{"c":"Cytosol","x":2.936},
      {"c":"ER","x":0.247},{"c":"ER","x":0.31},{"c":"ER","x":0.403},{"c":"ER","x":0.497},{"c":"ER","x":0.622},{"c":"ER","x":0.685},{"c":"ER","x":0.778},{"c":"ER","x":0.904},{"c":"ER","x":0.997},{"c":"ER","x":1.06},{"c":"ER","x":1.122},{"c":"ER","x":1.185},{"c":"ER","x":1.248},{"c":"ER","x":1.31},{"c":"ER","x":1.373},{"c":"ER","x":1.435},{"c":"ER","x":1.498},{"c":"ER","x":1.56},{"c":"ER","x":1.623},{"c":"ER","x":1.686},{"c":"ER","x":1.748},{"c":"ER","x":1.81},{"c":"ER","x":1.873},{"c":"ER","x":1.936},{"c":"ER","x":1.998},{"c":"ER","x":2.092},{"c":"ER","x":2.186},{"c":"ER","x":2.248},{"c":"ER","x":2.342},{"c":"ER","x":2.498},
      {"c":"Intermediate filaments","x":0.31},{"c":"Intermediate filaments","x":0.716},{"c":"Intermediate filaments","x":1.173},{"c":"Intermediate filaments","x":1.198},{"c":"Intermediate filaments","x":1.248},{"c":"Intermediate filaments","x":1.279},{"c":"Intermediate filaments","x":1.373},{"c":"Intermediate filaments","x":1.498},{"c":"Intermediate filaments","x":1.842},{"c":"Intermediate filaments","x":1.904},{"c":"Intermediate filaments","x":1.967},{"c":"Intermediate filaments","x":2.123},{"c":"Intermediate filaments","x":2.217},{"c":"Intermediate filaments","x":2.373},
      {"c":"Peroxisomes","x":1.31},{"c":"Peroxisomes","x":1.404},{"c":"Peroxisomes","x":1.498},{"c":"Peroxisomes","x":1.529},{"c":"Peroxisomes","x":1.592},{"c":"Peroxisomes","x":1.998},{"c":"Peroxisomes","x":2.048},{"c":"Peroxisomes","x":2.123},{"c":"Peroxisomes","x":2.342},
      {"c":"Actin filaments","x":1.01},{"c":"Actin filaments","x":1.216},{"c":"Actin filaments","x":1.248},{"c":"Actin filaments","x":1.842},{"c":"Actin filaments","x":2.03},{"c":"Actin filaments","x":2.467},{"c":"Actin filaments","x":2.824},
      {"c":"Endosomes","x":1.736},{"c":"Endosomes","x":1.78},{"c":"Endosomes","x":2.048},{"c":"Endosomes","x":2.936},
      {"c":"Lysosomes","x":2.048},{"c":"Lysosomes","x":3.311}]},
      "mark":{"type":"circle","size":12,"color":"#0b4f9c","opacity":1},
      "encoding":{"x":{"field":"x","type":"quantitative","scale":{"domain":[-0.765,4.13],"range":[209.8,470.8],"nice":false,"zero":false}}}}
    ]},
   {"data":{"values":[{"x":1.435}]},"mark":{"type":"rule","strokeDash":[5,4],"strokeWidth":1.5,"color":"#333333"},
    "encoding":{"x":{"field":"x","type":"quantitative","scale":{"domain":[-0.765,4.13],"range":[209.8,470.8],"nice":false,"zero":false}}}},
   {"encoding":{"y":{"field":"c","type":"nominal","sort":null,
      "scale":{"domain":["Mitotic spindle","Cytokinetic bridge","Centrosome","Cell junctions","Nucleus","Golgi","Focaladhesion sites","Mitochondria","Plasmamembrane","Other vesicles","Microtubules","Midbody(+ring)","Cytosol","ER","Intermediate filaments","Peroxisomes","Actin filaments","Endosomes","Lysosomes"],"range":[3.4,431],"paddingInner":0,"paddingOuter":0},"axis":null}},
    "layer":[
     {"data":{"values":[{"c":"Mitotic spindle","x":1.373},{"c":"Cytokinetic bridge","x":1.28},{"c":"Cell junctions","x":1.61},{"c":"Focaladhesion sites","x":1.642},{"c":"Microtubules","x":1.572},{"c":"Midbody(+ring)","x":1.454},{"c":"Intermediate filaments","x":1.685},{"c":"Actin filaments","x":1.717},{"c":"Lysosomes","x":1.966}]},
      "mark":{"type":"tick","color":"#8c8c8c","thickness":3,"size":21,"opacity":1},
      "encoding":{"x":{"field":"x","type":"quantitative","scale":{"domain":[-0.765,4.13],"range":[209.8,470.8],"nice":false,"zero":false}}}},
     {"data":{"values":[{"c":"Cytokinetic bridge","x":0.716},{"c":"Centrosome","x":1.298},{"c":"Cell junctions","x":1.385},{"c":"Nucleus","x":1.51},{"c":"Golgi","x":1.542},{"c":"Focaladhesion sites","x":1.591},{"c":"Mitochondria","x":1.623},{"c":"Plasmamembrane","x":1.654},{"c":"Other vesicles","x":1.666},{"c":"Microtubules","x":1.666},{"c":"Midbody(+ring)","x":1.685},{"c":"Cytosol","x":1.704},{"c":"ER","x":1.735},{"c":"Intermediate filaments","x":1.792},{"c":"Peroxisomes","x":1.81},{"c":"Actin filaments","x":1.917},{"c":"Endosomes","x":1.923},{"c":"Lysosomes","x":2.673}]},
      "mark":{"type":"tick","color":"#14285c","thickness":3.5,"size":21,"opacity":1},
      "encoding":{"x":{"field":"x","type":"quantitative","scale":{"domain":[-0.765,4.13],"range":[209.8,470.8],"nice":false,"zero":false}}}},
     {"data":{"values":[{"c":"Mitotic spindle","n":"7 (0)","grp":"teal"},{"c":"Cytokinetic bridge","n":"40 (1)","grp":"teal"},{"c":"Centrosome","n":"160 (39)","grp":"teal"},{"c":"Cell junctions","n":"101 (18)","grp":"black"},{"c":"Nucleus","n":"936 (219)","grp":"black"},{"c":"Golgi","n":"386 (85)","grp":"black"},{"c":"Focaladhesion sites","n":"78 (8)","grp":"black"},{"c":"Mitochondria","n":"948 (228)","grp":"black"},{"c":"Plasmamembrane","n":"647 (81)","grp":"black"},{"c":"Other vesicles","n":"612 (191)","grp":"black"},{"c":"Microtubules","n":"196 (32)","grp":"black"},{"c":"Midbody(+ring)","n":"21 (2)","grp":"teal"},{"c":"Cytosol","n":"2305 (536)","grp":"black"},{"c":"ER","n":"193 (93)","grp":"black"},{"c":"Intermediate filaments","n":"87 (23)","grp":"black"},{"c":"Peroxisomes","n":"12 (12)","grp":"maroon"},{"c":"Actin filaments","n":"106 (10)","grp":"black"},{"c":"Endosomes","n":"18 (4)","grp":"maroon"},{"c":"Lysosomes","n":"18 (2)","grp":"maroon"}]},
      "mark":{"type":"text","align":"right","baseline":"middle","fontSize":20},
      "encoding":{"x":{"datum":5.097,"type":"quantitative","scale":{"domain":[-0.765,4.13],"range":[209.8,470.8],"nice":false,"zero":false}},"text":{"field":"n"},"fill":{"field":"grp","type":"nominal","scale":{"domain":["teal","black","maroon"],"range":["#14877d","#000000","#8d1656"]},"legend":null}}},
     {"data":{"values":[{"c":"Mitotic spindle","t":"Protein#"}]},
      "mark":{"type":"text","align":"right","baseline":"middle","fontSize":20,"dy":-22,"color":"#000"},
      "encoding":{"x":{"datum":5.097,"type":"quantitative","scale":{"domain":[-0.765,4.13],"range":[209.8,470.8],"nice":false,"zero":false}},"text":{"field":"t"}}}
    ]},
   {"data":{"values":[{"v":1,"x":-5.287,"x2":-5.287},{"v":0,"x":-5.287,"x2":-4.794}]},
    "mark":{"type":"area","orient":"horizontal","color":"#b9c9dd"},
    "encoding":{"y":{"field":"v","type":"quantitative","scale":{"domain":[0,1],"nice":false,"zero":false},"axis":null},
      "x":{"field":"x","type":"quantitative","scale":{"domain":[-0.765,4.13],"range":[209.8,470.8],"nice":false,"zero":false}},"x2":{"field":"x2"}}},
   {"data":{"values":[{"v":0.25,"x":-5.1,"t":"Median protein stability"}]},
    "mark":{"type":"text","angle":270,"align":"center","baseline":"middle","fontSize":20,"fontStyle":"italic","color":"#000"},
    "encoding":{"y":{"field":"v","type":"quantitative","scale":{"domain":[0,1],"nice":false,"zero":false},"axis":null},
      "x":{"field":"x","type":"quantitative","scale":{"domain":[-0.765,4.13],"range":[209.8,470.8],"nice":false,"zero":false}},"text":{"field":"t"}}}
  ]},
 {"width":420,"height":430.6,
  "title":{"text":"E","dx":-51.5,"offset":1.5},
  "view":{"stroke":"#808080","strokeWidth":4},
  "encoding":{
   "x":{"field":"x","type":"quantitative","scale":{"domain":[-0.9,0.9],"nice":false,"zero":false},
        "axis":{"values":[-0.9,-0.6,-0.3,0,0.3,0.6,0.9],"labelExpr":"datum.value == 0 ? '0' : (datum.value < 0 ? '-' + format(-datum.value, '.1f') : format(datum.value, '.1f'))","domain":false,"tickColor":"#808080","tickSize":5,"tickWidth":1.5,"labelFontSize":19,"labelPadding":3,"title":"Enrichment score","titleFontSize":21,"titlePadding":2,"titleX":220}},
   "y":{"field":"y","type":"quantitative","scale":{"domain":[0,21,39.46],"range":[430.6,85.4,0],"nice":false,"zero":false},
        "axis":{"values":[0,3,6,9,12,15,18,35],"domain":false,"tickColor":"#808080","tickSize":5,"tickWidth":1.5,"labelFontSize":19,"labelPadding":2,"title":"-Log10(p-value)","titleFontSize":21,"titlePadding":6,"titleY":225}}},
  "layer":[
   {"data":{"values":[{"x":-0.589,"y":38.47,"y2":38.47},{"x":0.886,"y":38.47,"y2":31.39}]},"mark":{"type":"area","color":"#c4c4c4"},"encoding":{"y2":{"field":"y2"}}},
   {"data":{"values":[{"x":0.869,"y":35.3,"t":"Protein stability"}]},"mark":{"type":"text","align":"right","baseline":"middle","fontSize":20,"fontStyle":"italic","color":"#000"},"encoding":{"text":{"field":"t"}}},
   {"data":{"values":[{"x":0,"y":0,"y2":39.46}]},"mark":{"type":"rule","strokeDash":[5,5],"strokeWidth":2,"color":"#8a8a8a"},"encoding":{"y2":{"field":"y2"}}},
   {"data":{"values":[
     {"name":"transcription factor","x":-0.389,"y":31.97,"db":"HPA","m":">200"},
     {"name":"ZF C2H2 type","x":-0.419,"y":18.45,"db":"PROSITE","m":">100-200"},
     {"name":"BTB","x":-0.597,"y":12.83,"db":"PROSITE","m":">20-50"},
     {"name":"ZF ring type","x":-0.294,"y":8.86,"db":"PROSITE","m":">100-200"},
     {"name":"bHLH","x":-0.597,"y":6.48,"db":"PROSITE","m":">20-50"},
     {"name":"VWFC","x":-0.765,"y":5.0,"db":"PROSITE","m":">10-20"},
     {"name":"Fork head","x":-0.708,"y":5.0,"db":"PROSITE","m":">10-20"},
     {"name":"bZIP","x":-0.526,"y":3.99,"db":"PROSITE","m":">10-20"},
     {"name":"nuclear receptor","x":-0.592,"y":2.92,"db":"HPA","m":">10-20"},
     {"name":"ASX hydroxyl.","x":-0.447,"y":4.56,"db":"PROSITE","m":">20-50"},
     {"name":"EGF_CA","x":-0.427,"y":4.26,"db":"PROSITE","m":">20-50"},
     {"name":"Kinesin_motor","x":-0.401,"y":3.95,"db":"PROSITE","m":">20-50"},
     {"name":"ZF PHD type","x":-0.294,"y":4.9,"db":"PROSITE","m":">50-100"},
     {"name":"EGF-like","x":-0.274,"y":3.55,"db":"PROSITE","m":">50-100"},
     {"name":"hydrolase","x":0.133,"y":5.72,"db":"HPA","m":">200"},
     {"name":"transporter","x":0.165,"y":4.87,"db":"HPA","m":">200"},
     {"name":"oxidoreductase","x":0.301,"y":10.99,"db":"HPA","m":">100-200"},
     {"name":"ligase","x":0.417,"y":10.38,"db":"HPA","m":">50-100"},
     {"name":"isomerase","x":0.354,"y":6.18,"db":"HPA","m":">50-100"},
     {"name":"lyase","x":0.366,"y":6.25,"db":"HPA","m":">50-100"},
     {"name":"AA-tRNA ligase","x":0.562,"y":8.52,"db":"PROSITE","m":">20-50"},
     {"name":"ER target","x":0.542,"y":7.4,"db":"PROSITE","m":">20-50"},
     {"name":"RAB","x":0.388,"y":4.2,"db":"PROSITE","m":">20-50"},
     {"name":"threonine type peptidase","x":0.548,"y":3.75,"db":"HPA","m":">10-20"}]},
    "mark":{"type":"circle","opacity":0.7},
    "encoding":{"color":{"field":"db","type":"nominal","scale":{"domain":["HPA","PROSITE"],"range":["#5b5fa6","#5f8379"]},"legend":null},
      "size":{"field":"m","type":"ordinal","scale":{"type":"ordinal","domain":[">10-20",">20-50",">50-100",">100-200",">200"],"range":[80,350,800,1450,2380]},"legend":null}}},
   {"data":{"values":[{"x":-0.836,"y":9.83,"x2":-0.777,"y2":5.17},{"x":-0.773,"y":8.72,"x2":-0.72,"y2":5.27},{"x":-0.635,"y":7.0,"x2":-0.609,"y2":6.59},{"x":-0.41,"y":6.48,"x2":-0.41,"y2":4.66},{"x":-0.124,"y":7.4,"x2":-0.274,"y2":5.17},{"x":-0.64,"y":3.85,"x2":-0.529,"y2":4.05},{"x":-0.492,"y":3.24,"x2":-0.492,"y2":4.56},{"x":-0.256,"y":1.82,"x2":-0.384,"y2":3.65},{"x":-0.154,"y":3.75,"x2":-0.265,"y2":3.55},{"x":-0.683,"y":1.22,"x2":-0.597,"y2":2.74},{"x":0.068,"y":13.08,"x2":0.11,"y2":7.09},{"x":0.383,"y":15.81,"x2":0.289,"y2":11.76},{"x":0.465,"y":14.19,"x2":0.426,"y2":10.54},{"x":0.247,"y":8.15,"x2":0.34,"y2":5.98},{"x":0.554,"y":5.37,"x2":0.366,"y2":6.39},{"x":0.575,"y":1.92,"x2":0.55,"y2":3.75}]},
    "mark":{"type":"rule","strokeWidth":1,"color":"#333333"},"encoding":{"x2":{"field":"x2"},"y2":{"field":"y2"}}},
   {"data":{"values":[{"t":"transcription","x":-0.589,"y":32.97},{"t":"factor","x":-0.597,"y":29.44},{"t":"ZF C2H2","x":-0.503,"y":19.77},{"t":"type","x":-0.503,"y":18.86},{"t":"BTB","x":-0.657,"y":13.58},{"t":"VWFC","x":-0.751,"y":10.28},{"t":"Fork head","x":-0.615,"y":9.16},{"t":"bHLH","x":-0.628,"y":7.8},{"t":"ZF ring","x":-0.331,"y":10.85},{"t":"type","x":-0.331,"y":10.07},{"t":"EGF_CA","x":-0.359,"y":6.89},{"t":"ZF PHD","x":-0.052,"y":8.76},{"t":"type","x":-0.052,"y":7.86},{"t":"bZIP","x":-0.717,"y":3.95},{"t":"ASX","x":-0.447,"y":2.74},{"t":"hydroxyl.","x":-0.447,"y":1.86},{"t":"Kinesin_motor","x":-0.009,"y":1.46},{"t":"EGF-","x":-0.061,"y":3.85},{"t":"like","x":-0.092,"y":2.94},{"t":"nuclear receptor","x":-0.577,"y":0.61},{"t":"hydrolase","x":0.073,"y":13.54},{"t":"trans-","x":0.178,"y":3.35},{"t":"porter","x":0.18,"y":2.49},{"t":"oxido-","x":0.468,"y":17.23},{"t":"reductase","x":0.468,"y":16.42},{"t":"ligase","x":0.562,"y":14.84},{"t":"isomerase","x":0.306,"y":8.61},{"t":"AA-tRNA","x":0.681,"y":9.93},{"t":"ligase","x":0.681,"y":9.02},{"t":"ER target","x":0.72,"y":6.89},{"t":"lyase","x":0.661,"y":5.21},{"t":"RAB","x":0.4,"y":3.41},{"t":"threonine","x":0.617,"y":1.46},{"t":"type peptidase","x":0.63,"y":0.61}]},
    "mark":{"type":"text","align":"center","baseline":"middle","fontSize":19,"color":"#000"},"encoding":{"text":{"field":"t"}}},
   {"data":{"values":[{"x":-0.896,"y":22.2,"t":"//"}]},"mark":{"type":"text","align":"center","baseline":"middle","fontSize":24,"color":"#9a9a9a"},"encoding":{"text":{"field":"t"}}},
   {"data":{"values":[{"t":"Functional","x":0.954,"y":31.02},{"t":"database","x":0.954,"y":27.43},{"t":"Category","x":0.946,"y":13.48},{"t":"members","x":0.946,"y":12.47}]},
    "mark":{"type":"text","align":"left","baseline":"middle","fontSize":20,"fontWeight":"bold","fontStyle":"italic","color":"#000"},"encoding":{"text":{"field":"t"}}},
   {"data":{"values":[{"db":"HPA","x":1.045,"y":20.31},{"db":"PROSITE","x":1.045,"y":17.4}]},
    "mark":{"type":"circle","size":1075,"opacity":0.7},"encoding":{"color":{"field":"db","type":"nominal","scale":{"domain":["HPA","PROSITE"],"range":["#5b5fa6","#5f8379"]},"legend":null}}},
   {"data":{"values":[{"db":"HPA","t":"HPA","x":1.136,"y":20.31},{"db":"PROSITE","t":"PROSITE","x":1.136,"y":17.4}]},
    "mark":{"type":"text","align":"left","baseline":"middle","fontSize":20,"fontWeight":"bold"},
    "encoding":{"text":{"field":"t"},"fill":{"field":"db","type":"nominal","scale":{"domain":["HPA","PROSITE"],"range":["#1f4e8c","#0e6e63"]},"legend":null}}},
   {"data":{"values":[{"m":">200","x":1.043,"y":9.99},{"m":">100-200","x":1.043,"y":7.8},{"m":">50-100","x":1.043,"y":5.94},{"m":">20-50","x":1.043,"y":4.32},{"m":">10-20","x":1.043,"y":2.98}]},
    "mark":{"type":"circle","color":"#a29f9f","opacity":0.7},
    "encoding":{"size":{"field":"m","type":"ordinal","scale":{"type":"ordinal","domain":[">10-20",">20-50",">50-100",">100-200",">200"],"range":[80,350,800,1450,2380]},"legend":null}}},
   {"data":{"values":[{"t":">200","x":1.074,"y":9.93},{"t":">100-200","x":1.074,"y":7.54},{"t":">50-100","x":1.074,"y":5.88},{"t":">20-50","x":1.074,"y":4.26},{"t":">10-20","x":1.074,"y":2.88}]},
    "mark":{"type":"text","align":"left","baseline":"middle","fontSize":20,"fontStyle":"italic","color":"#000"},"encoding":{"text":{"field":"t"}}},
   {"data":{"values":[{"t":"FDR=1%","x":1.156,"y":0.67}]},
    "mark":{"type":"text","align":"center","baseline":"middle","fontSize":20,"fontWeight":"bold","color":"#000"},"encoding":{"text":{"field":"t"}}}
  ]}
]}
]
}
